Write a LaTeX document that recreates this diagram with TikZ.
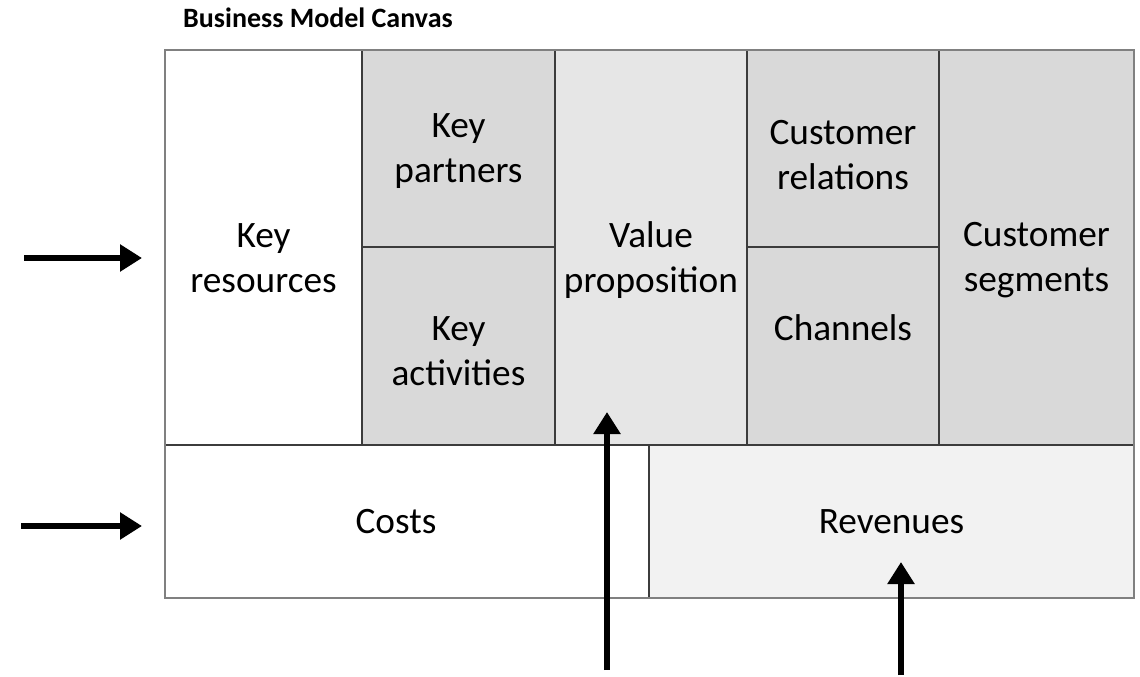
\documentclass[tikz,border=0pt]{standalone}
\usepackage{fontspec}
\setmainfont{Carlito}
\usetikzlibrary{arrows.meta}
\definecolor{celldark}{HTML}{D9D9D9}
\definecolor{cellmid}{HTML}{E6E6E6}
\definecolor{celllight}{HTML}{F2F2F2}
\definecolor{gridline}{HTML}{3C3C3C}
\definecolor{outerline}{HTML}{808080}
\begin{document}
\begin{tikzpicture}[x=1pt,y=-1pt,
  cellbox/.style={draw=gridline,line width=1.3pt,inner sep=0pt,outer sep=0pt},
  celltext/.style={align=center,inner sep=0pt,font=\fontsize{37.3}{45}\selectfont},
  bigarrow/.style={line width=6.5pt,-{Triangle[width=26pt,length=22pt]},black}]
\useasboundingbox (0,0) rectangle (1140,677);
\node[anchor=base west,inner sep=0pt,font=\bfseries\fontsize{28}{33}\selectfont] (title) at (183,28) {Business Model Canvas};
% top row cells
\node[cellbox,fill=white,minimum width=197pt,minimum height=395pt] (kr) at (263.5,247.5) {};
\node[cellbox,fill=celldark,minimum width=193pt,minimum height=197pt] (kp) at (458.5,148.5) {};
\node[cellbox,fill=celldark,minimum width=193pt,minimum height=198pt] (ka) at (458.5,346) {};
\node[cellbox,fill=cellmid,minimum width=192pt,minimum height=395pt] (vp) at (651,247.5) {};
\node[cellbox,fill=celldark,minimum width=192pt,minimum height=197pt] (cr) at (843,148.5) {};
\node[cellbox,fill=celldark,minimum width=192pt,minimum height=198pt] (ch) at (843,346) {};
\node[cellbox,fill=celldark,minimum width=195pt,minimum height=395pt] (cs) at (1036.5,247.5) {};
% bottom row
\node[cellbox,fill=white,minimum width=484pt,minimum height=153pt] (co) at (407,521.5) {};
\node[cellbox,fill=celllight,minimum width=485pt,minimum height=153pt] (rv) at (891.5,521.5) {};
% outer border
\draw[outerline,line width=1.3pt] (kr.north west) rectangle (rv.south east);
% labels
\node[celltext] (krl) at ([yshift=-11pt]kr.center) {Key\\resources};
\node[celltext] (kpl) at ([yshift=-3pt]kp.center) {Key\\partners};
\node[celltext] (kal) at ([yshift=-5pt]ka.center) {Key\\activities};
\node[celltext] (vpl) at ([yshift=-13pt]vp.center) {Value\\proposition};
\node[celltext] (crl) at ([yshift=-7pt]cr.center) {Customer\\relations};
\node[celltext] (chl) at ([yshift=18pt]ch.center) {Channels};
\node[celltext] (csl) at ([yshift=-13pt]cs.center) {Customer\\segments};
\node[celltext] (col) at ([xshift=-11pt]co.center) {Costs};
\node[celltext] (rvl) at (rv.center) {Revenues};
% arrows
\coordinate (a1s) at (24,258);
\coordinate (a1e) at (142,258);
\coordinate (a2s) at (21,526);
\coordinate (a2e) at (142,526);
\coordinate (a3s) at (607,670);
\coordinate (a3e) at (607,412);
\coordinate (a4s) at (901,675);
\coordinate (a4e) at (901,562);
\draw[bigarrow] (a1s) -- (a1e);
\draw[bigarrow] (a2s) -- (a2e);
\draw[bigarrow] (a3s) -- (a3e);
\draw[bigarrow] (a4s) -- (a4e);
\end{tikzpicture}
\end{document}
